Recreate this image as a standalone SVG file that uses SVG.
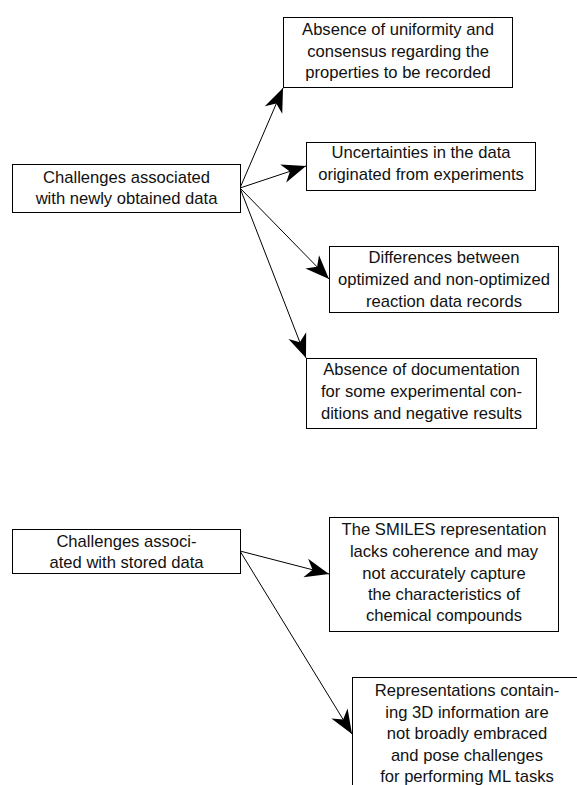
<svg xmlns="http://www.w3.org/2000/svg" width="577" height="785" viewBox="0 0 577 785">
  <style>
    .box { fill: #ffffff; stroke: #000000; stroke-width: 1; }
    .lbl { font-family: "Liberation Sans", Arial, Helvetica, sans-serif; font-size: 16.6px; fill: #111111; text-anchor: middle; }
    .edge { stroke: #000000; stroke-width: 1; fill: none; marker-end: url(#arrow); }
  </style>
  <defs>
    <marker id="arrow" markerUnits="userSpaceOnUse" markerWidth="30" markerHeight="30" refX="24" refY="9.5" orient="auto" overflow="visible">
      <path d="M24,9.5 L0,0 L7,9.5 L0,19 Z" fill="#000000"/>
    </marker>
  </defs>
  <rect width="577" height="785" fill="#ffffff"/>

  <!-- connectors -->
  <g id="connectors">
    <line class="edge" x1="240" y1="188" x2="283" y2="88"/>
    <line class="edge" x1="240" y1="188" x2="306" y2="166"/>
    <line class="edge" x1="240" y1="188" x2="329" y2="279"/>
    <line class="edge" x1="240" y1="188" x2="306" y2="358"/>
    <line class="edge" x1="240" y1="551" x2="329" y2="574"/>
    <line class="edge" x1="240" y1="551" x2="352" y2="734"/>
  </g>

  <!-- first group: new data -->
  <g id="new-data">
    <rect class="box" x="12.5" y="164.5" width="228" height="48"/>
    <text class="lbl" x="126.5" y="182.5">Challenges associated</text>
    <text class="lbl" x="126.5" y="203.5">with newly obtained data</text>
  </g>

  <g id="uniformity">
    <rect class="box" x="283.5" y="17.5" width="229" height="70"/>
    <text class="lbl" x="398" y="35">Absence of uniformity and</text>
    <text class="lbl" x="398" y="56.5">consensus regarding the</text>
    <text class="lbl" x="398" y="78">properties to be recorded</text>
  </g>

  <g id="uncertainties">
    <rect class="box" x="306.5" y="142.5" width="229" height="48"/>
    <text class="lbl" x="421" y="158">Uncertainties in the data</text>
    <text class="lbl" x="421" y="180">originated from experiments</text>
  </g>

  <g id="differences">
    <rect class="box" x="329.5" y="246.5" width="229" height="66"/>
    <text class="lbl" x="444" y="263">Differences between</text>
    <text class="lbl" x="444" y="285">optimized and non-optimized</text>
    <text class="lbl" x="444" y="306.5">reaction data records</text>
  </g>

  <g id="documentation">
    <rect class="box" x="306.5" y="358.5" width="230" height="70"/>
    <text class="lbl" x="421.5" y="375">Absence of documentation</text>
    <text class="lbl" x="421.5" y="397">for some experimental con-</text>
    <text class="lbl" x="421.5" y="419">ditions and negative results</text>
  </g>

  <!-- second group: stored data -->
  <g id="stored-data">
    <rect class="box" x="12.5" y="529.5" width="228" height="44"/>
    <text class="lbl" x="126.5" y="547">Challenges associ-</text>
    <text class="lbl" x="126.5" y="568">ated with stored data</text>
  </g>

  <g id="smiles">
    <rect class="box" x="329.5" y="517.5" width="229" height="114"/>
    <text class="lbl" x="444" y="535">The SMILES representation</text>
    <text class="lbl" x="444" y="557">lacks coherence and may</text>
    <text class="lbl" x="444" y="579">not accurately capture</text>
    <text class="lbl" x="444" y="600">the characteristics of</text>
    <text class="lbl" x="444" y="621">chemical compounds</text>
  </g>

  <g id="three-d">
    <rect class="box" x="352.5" y="677.5" width="229" height="114"/>
    <text class="lbl" x="467" y="696">Representations contain-</text>
    <text class="lbl" x="467" y="717.5">ing 3D information are</text>
    <text class="lbl" x="467" y="739">not broadly embraced</text>
    <text class="lbl" x="467" y="760.5">and pose challenges</text>
    <text class="lbl" x="467" y="782">for performing ML tasks</text>
  </g>
</svg>
